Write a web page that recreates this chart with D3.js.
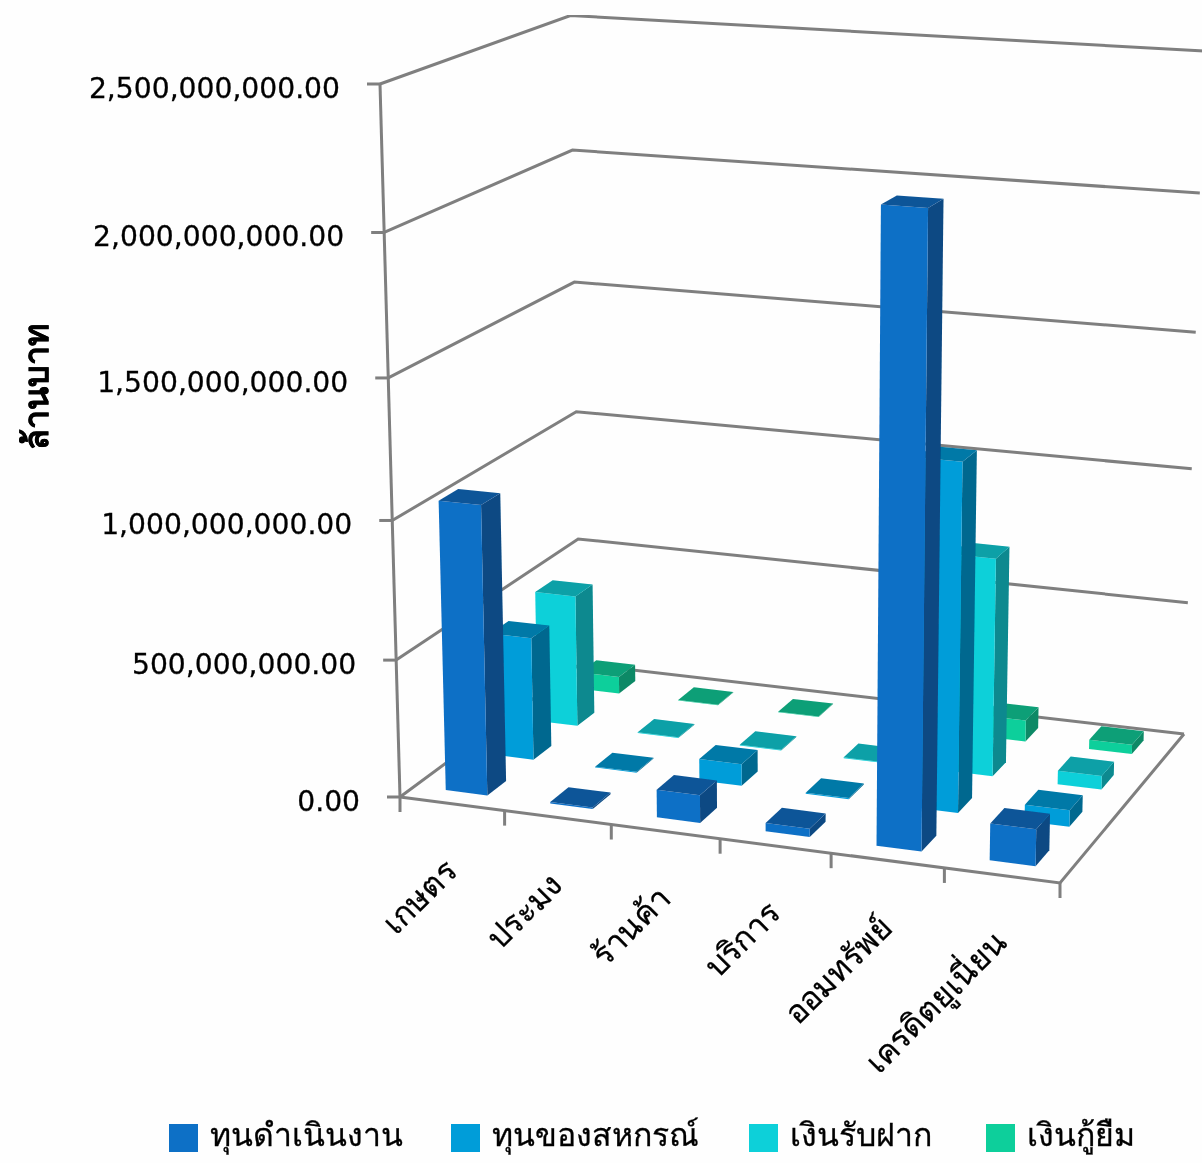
<!DOCTYPE html>
<html>
<head>
<meta charset="utf-8">
<script src="https://cdn.jsdelivr.net/npm/d3@7"></script>
<style>
  html, body { margin: 0; padding: 0; background: #fefefe; }
  svg { display: block; }
  text { font-family: "DejaVu Sans", "Noto Sans", "Liberation Sans", sans-serif; fill: #000; stroke: #000; stroke-width: 0.3px; }
</style>
</head>
<body>
<svg id="chart" width="1202" height="1163">
  <defs><filter id="soft" x="0" y="0" width="100%" height="100%"><feGaussianBlur stdDeviation="0.6"/></filter></defs>
</svg>
<script>
const categories = ["เกษตร", "ประมง", "ร้านค้า", "บริการ", "ออมทรัพย์", "เครดิตยูเนี่ยน"];
const seriesNames = ["ทุนดำเนินงาน", "ทุนของสหกรณ์", "เงินรับฝาก", "เงินกู้ยืม"];
const seriesColors = ["#0F6FC6", "#009DD9", "#0BD0D9", "#10CF9B"];

const operatingCapital = [1050000000, 6000000, 100000000, 30000000, 2190000000, 130000000];
const coopCapital = [455000000, 3000000, 80000000, 4000000, 1250000000, 60000000];
const deposits = [495000000, 3000000, 3000000, 3000000, 800000000, 50000000];
const loans = [65000000, 2000000, 2000000, 2000000, 80000000, 35000000];
const seriesValues = [operatingCapital, coopCapital, deposits, loans];

const yTicks = [0, 500000000, 1000000000, 1500000000, 2000000000, 2500000000];

const svg = d3.select("#chart");
const root = svg.append("g").attr("filter", "url(#soft)");
const fmt = d3.format(",.2f");

// floor corners of the 3d box in the picture, then where the front-left axis ends
const fl = [400, 797], fr = [1060, 883], br = [1184, 734], bl = [580, 664];
const axisTop = [380, 84];
const vanish = [783, 14450]; // vertical edges meet far below the chart

// unit square -> floor quad
const sx = fl[0] - fr[0] + br[0] - bl[0], sy = fl[1] - fr[1] + br[1] - bl[1];
const dx1 = fr[0] - br[0], dx2 = bl[0] - br[0], dy1 = fr[1] - br[1], dy2 = bl[1] - br[1];
const den = dx1 * dy2 - dx2 * dy1;
const g = (sx * dy2 - dx2 * sy) / den, h = (dx1 * sy - sx * dy1) / den;
const a = fr[0] - fl[0] + g * fr[0], b = bl[0] - fl[0] + h * bl[0];
const d = fr[1] - fl[1] + g * fr[1], e = bl[1] - fl[1] + h * bl[1];
const k = (axisTop[1] - fl[1]) / (vanish[1] - axisTop[1]);

// u along categories, v into depth, w up the value axis (all 0..1)
const project = (u, v, w) => {
  const W = g * u + h * v + 1 + w * k;
  return [
    (a * u + b * v + fl[0] + w * k * vanish[0]) / W,
    (d * u + e * v + fl[1] + w * k * vanish[1]) / W
  ];
};

const valueScale = d3.scaleLinear().domain([0, 2500000000]).range([0, 1]);
const catScale = d3.scaleBand().domain(d3.range(categories.length)).range([0, 1]).paddingInner(0.6).paddingOuter(0.3);
const depthScale = d3.scaleBand().domain(d3.range(seriesNames.length)).range([0, 1]).paddingInner(0.6).paddingOuter(0.3);

const line = d3.line();
const poly = pts => line(pts) + "Z";
const shade = (c, f) => { const r = d3.rgb(c); return d3.rgb(r.r * f, r.g * f, r.b * f).formatHex(); };

// grid lines on the two walls
const grid = root.append("g").attr("fill", "none").attr("stroke", "#7f7f7f").attr("stroke-width", 3);
yTicks.forEach(t => {
  const w = valueScale(t);
  grid.append("path").attr("d", line([project(0, 0, w), project(0, 1, w), project(1, 1, w)]));
  const p = project(0, 0, w);
  grid.append("path").attr("d", line([[p[0] - 13, p[1]], p]));
});
// axis and floor edges
grid.append("path").attr("d", line([project(0, 0, 1), project(0, 0, 0)]));
grid.append("path").attr("d", line([project(0, 0, 0), project(1, 0, 0), project(1, 1, 0)]));
d3.range(categories.length + 1).forEach(i => {
  const p = project(i / categories.length, 0, 0);
  grid.append("path").attr("d", line([p, [p[0], p[1] + 15]]));
});

// bars, back row first and right to left so the side faces stack properly
const bars = root.append("g");
d3.range(seriesNames.length).reverse().forEach(s => {
  const v0 = depthScale(s), v1 = v0 + depthScale.bandwidth();
  d3.range(categories.length).reverse().forEach(c => {
    const u0 = catScale(c), u1 = u0 + catScale.bandwidth();
    const w = valueScale(seriesValues[s][c]);
    const col = seriesColors[s];
    const bar = bars.append("g");
    bar.append("path").attr("fill", shade(col, 0.66))
      .attr("d", poly([project(u1, v0, 0), project(u1, v1, 0), project(u1, v1, w), project(u1, v0, w)]));
    bar.append("path").attr("fill", col)
      .attr("d", poly([project(u0, v0, 0), project(u1, v0, 0), project(u1, v0, w), project(u0, v0, w)]));
    bar.append("path").attr("fill", shade(col, 0.77))
      .attr("d", poly([project(u0, v0, w), project(u1, v0, w), project(u1, v1, w), project(u0, v1, w)]));
  });
});

// value labels
yTicks.forEach(t => {
  const p = project(0, 0, valueScale(t));
  root.append("text").attr("x", p[0] - 40).attr("y", p[1] + 14)
    .attr("text-anchor", "end").attr("font-size", 28.2).text(fmt(t));
});

root.append("text").attr("transform", "translate(48,387) rotate(-90)")
  .attr("text-anchor", "middle").attr("font-size", 34).attr("font-weight", "bold").text("ล้านบาท");

// category labels at 45 degrees, ending under the middle of each slot
categories.forEach((name, i) => {
  const p = project((i + 0.5) / categories.length, 0, 0);
  root.append("text").attr("transform", `translate(${p[0] + 7},${p[1] + 69}) rotate(-45)`)
    .attr("text-anchor", "end").attr("font-size", 32).text(name);
});

// legend
const legendX = [169, 451, 749, 986];
seriesNames.forEach((name, i) => {
  root.append("rect").attr("x", legendX[i]).attr("y", 1124).attr("width", 29).attr("height", 28).attr("fill", seriesColors[i]);
  root.append("text").attr("x", legendX[i] + 41).attr("y", 1146).attr("font-size", 32).text(name);
});
</script>
</body>
</html>
